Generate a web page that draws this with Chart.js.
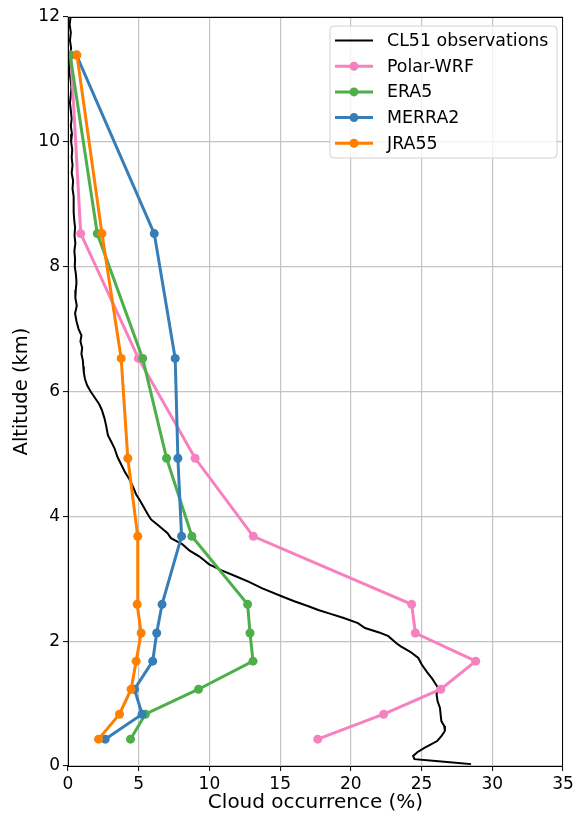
<!DOCTYPE html>
<html>
<head>
<meta charset="utf-8">
<script src="https://cdn.jsdelivr.net/npm/chart.js@4/dist/chart.umd.min.js"></script>
<style>
html, body { margin: 0; padding: 0; background: #fff; }
#wrap { width: 578px; height: 819px; }
</style>
</head>
<body>
<div id="wrap"><canvas id="c" width="578" height="819"></canvas></div>
<script>
// Model output levels (km)
const modelLevels = [0.43, 0.83, 1.23, 1.68, 2.13, 2.59, 3.68, 4.93, 6.53, 8.53, 11.39];

// Cloud occurrence (%) per model level
const polarWrf = [17.66, 22.32, 26.36, 28.83, 24.56, 24.3, 13.1, 8.99, 4.98, 0.9, 0.2];
const era5     = [4.42, 5.47, 9.23, 13.08, 12.87, 12.7, 8.76, 6.97, 5.28, 2.07, 0.15];
const merra2   = [2.63, 5.24, 4.7, 5.99, 6.27, 6.65, 8.03, 7.77, 7.58, 6.1, 0.6];
const jra55    = [2.16, 3.64, 4.46, 4.82, 5.17, 4.89, 4.93, 4.23, 3.76, 2.4, 0.63];

// Ceilometer profile
const obsAltitude = [12.0, 11.875, 11.75, 11.625, 11.5, 11.375, 11.25, 11.125, 11.0, 10.875,
  10.75, 10.625, 10.5, 10.375, 10.25, 10.125, 10.0, 9.875, 9.75, 9.625,
  9.5, 9.375, 9.25, 9.125, 9.0, 8.875, 8.75, 8.625, 8.5, 8.375,
  8.25, 8.125, 8.0, 7.875, 7.75, 7.625, 7.5, 7.375, 7.25, 7.125,
  7.0, 6.9, 6.8, 6.7, 6.6, 6.5, 6.4, 6.3, 6.2, 6.1,
  6.0, 5.9, 5.8, 5.7, 5.57, 5.45, 5.3, 5.2, 5.09, 4.95,
  4.83, 4.7, 4.59, 4.47, 4.35, 4.25, 4.13, 4.03, 3.95, 3.84,
  3.73, 3.65, 3.55, 3.45, 3.36, 3.3, 3.23, 3.13, 3.04, 2.95,
  2.85, 2.72, 2.64, 2.56, 2.5, 2.45, 2.37, 2.29, 2.21, 2.14,
  2.08, 1.97, 1.92, 1.83, 1.73, 1.63, 1.5, 1.4, 1.33, 1.25,
  1.15, 1.04, 0.93, 0.82, 0.72, 0.64, 0.56, 0.48, 0.4, 0.34,
  0.29, 0.22, 0.16, 0.11, 0.08, 0.05, 0.03];
const obsCloud = [0.18, 0.12, 0.2, 0.14, 0.22, 0.12, 0.16, 0.1, 0.18, 0.24,
  0.2, 0.14, 0.2, 0.26, 0.2, 0.28, 0.22, 0.3, 0.26, 0.32,
  0.26, 0.36, 0.32, 0.4, 0.42, 0.38, 0.44, 0.5, 0.46, 0.52,
  0.45, 0.5, 0.48, 0.56, 0.6, 0.55, 0.52, 0.62, 0.5, 0.6,
  0.75, 0.95, 0.88, 1.0, 0.95, 1.05, 1.08, 1.12, 1.2, 1.35,
  1.6, 1.9, 2.2, 2.4, 2.58, 2.7, 2.82, 3.05, 3.29, 3.5,
  3.76, 4.05, 4.35, 4.6, 4.82, 5.1, 5.4, 5.65, 5.87, 6.46,
  7.04, 7.28, 8.1, 8.6, 9.27, 9.6, 9.98, 10.9, 11.86, 12.8,
  13.7, 15.1, 16.0, 17.0, 17.7, 18.4, 19.5, 20.5, 21.0, 22.0,
  22.65, 23.2, 23.5, 24.2, 24.77, 25.0, 25.4, 25.75, 25.95, 26.17,
  26.06, 26.13, 26.3, 26.35, 26.4, 26.6, 26.65, 26.4, 26.1, 25.6,
  25.2, 24.7, 24.4, 24.5, 26.0, 27.6, 28.5];

const xTicks = [0, 5, 10, 15, 20, 25, 30, 35];
const yTicks = [0, 2, 4, 6, 8, 10, 12];

const FONT = "'DejaVu Sans', sans-serif";

function profile(xs, ys) {
  return xs.map((v, i) => ({ x: v, y: ys[i] }));
}

function modelSet(label, values, color, order) {
  return {
    label: label,
    data: profile(values, modelLevels),
    borderColor: color,
    backgroundColor: color,
    borderWidth: 3,
    pointRadius: 4.5,
    pointBorderWidth: 0,
    pointBackgroundColor: color,
    showLine: true,
    order: order
  };
}

// Axes frame and inset key, drawn above the data
const frameAndKey = {
  id: 'frameAndKey',
  afterDatasetsDraw(chart) {
    const ctx = chart.ctx;
    const a = chart.chartArea;
    ctx.save();
    ctx.strokeStyle = '#000';
    ctx.lineWidth = 1;
    ctx.strokeRect(Math.round(a.left) + 0.5, Math.round(a.top) + 0.5,
                   Math.round(a.right - a.left) - 1, Math.round(a.bottom - a.top));

    // key box
    const bx = a.right - 233, by = a.top + 9, bw = 227, bh = 132, r = 4;
    ctx.beginPath();
    ctx.moveTo(bx + r, by);
    ctx.lineTo(bx + bw - r, by);
    ctx.quadraticCurveTo(bx + bw, by, bx + bw, by + r);
    ctx.lineTo(bx + bw, by + bh - r);
    ctx.quadraticCurveTo(bx + bw, by + bh, bx + bw - r, by + bh);
    ctx.lineTo(bx + r, by + bh);
    ctx.quadraticCurveTo(bx, by + bh, bx, by + bh - r);
    ctx.lineTo(bx, by + r);
    ctx.quadraticCurveTo(bx, by, bx + r, by);
    ctx.closePath();
    ctx.fillStyle = 'rgba(255,255,255,0.8)';
    ctx.fill();
    ctx.strokeStyle = '#d0d0d0';
    ctx.stroke();

    ctx.font = '17.4px ' + FONT;
    ctx.textBaseline = 'middle';
    ctx.textAlign = 'left';
    chart.data.datasets.forEach((ds, i) => {
      const cy = by + 14.5 + i * 25.7;
      ctx.strokeStyle = ds.borderColor;
      ctx.lineWidth = ds.borderWidth;
      ctx.beginPath();
      ctx.moveTo(bx + 5, cy);
      ctx.lineTo(bx + 43, cy);
      ctx.stroke();
      if (ds.pointRadius > 0) {
        ctx.fillStyle = ds.borderColor;
        ctx.beginPath();
        ctx.arc(bx + 24, cy, ds.pointRadius, 0, Math.PI * 2);
        ctx.fill();
      }
      ctx.fillStyle = '#000';
      ctx.fillText(ds.label, bx + 57, cy + 1);
    });
    ctx.restore();
  }
};

Chart.defaults.color = '#000';
Chart.defaults.font.family = FONT;

new Chart(document.getElementById('c'), {
  type: 'scatter',
  data: {
    datasets: [
      {
        label: 'CL51 observations',
        data: profile(obsCloud, obsAltitude),
        borderColor: '#000',
        backgroundColor: '#000',
        borderWidth: 2,
        pointRadius: 0,
        showLine: true,
        order: 5
      },
      modelSet('Polar-WRF', polarWrf, '#f781bf', 4),
      modelSet('ERA5', era5, '#4daf4a', 3),
      modelSet('MERRA2', merra2, '#377eb8', 2),
      modelSet('JRA55', jra55, '#ff7f00', 1)
    ]
  },
  options: {
    responsive: false,
    animation: false,
    devicePixelRatio: 1,
    layout: { padding: { left: 0, top: 17, right: 15, bottom: 0 } },
    plugins: {
      legend: { display: false },
      tooltip: { enabled: false }
    },
    scales: {
      x: {
        type: 'linear',
        min: xTicks[0],
        max: xTicks[xTicks.length - 1],
        afterBuildTicks(scale) { scale.ticks = xTicks.map(v => ({ value: v })); },
        afterFit(scale) { scale.height = 53; },
        ticks: { font: { size: 17 }, padding: 3, maxRotation: 0 },
        grid: { color: '#c4c4c4', lineWidth: 1.2, tickLength: 5, tickColor: '#000', tickWidth: 1 },
        border: { display: false },
        title: { display: true, text: 'Cloud occurrence (%)', font: { size: 20 }, padding: { top: 0, bottom: 4 } }
      },
      y: {
        type: 'linear',
        min: yTicks[0],
        max: yTicks[yTicks.length - 1],
        afterBuildTicks(scale) { scale.ticks = yTicks.map(v => ({ value: v })); },
        afterFit(scale) { scale.width = 68; },
        ticks: { font: { size: 17 }, padding: 3 },
        grid: { color: '#c4c4c4', lineWidth: 1.2, tickLength: 5, tickColor: '#000', tickWidth: 1 },
        border: { display: false },
        title: { display: true, text: 'Altitude (km)', font: { size: 19.5 }, padding: { top: 10, bottom: 0 } }
      }
    }
  },
  plugins: [frameAndKey]
});
</script>
</body>
</html>
